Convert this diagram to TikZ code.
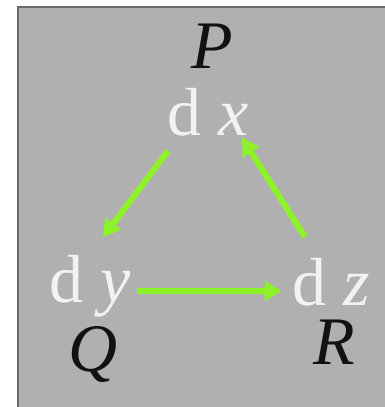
\documentclass[tikz,border=0pt]{standalone}
\usepackage{fontspec}
\setmainfont{Liberation Serif}
\definecolor{panelgray}{RGB}{176,176,176}
\definecolor{rimgray}{RGB}{105,105,105}
\definecolor{arrgreen}{RGB}{142,242,40}
\definecolor{difwhite}{RGB}{242,242,242}
\usetikzlibrary{arrows.meta}

\begin{document}
\begin{tikzpicture}[
        difnode/.style={anchor=base, inner sep=2pt, text=difwhite,
                        font=\fontsize{68}{80}\selectfont},
        ptlabel/.style={anchor=base, inner sep=0pt, text=black!93,
                        font=\fontsize{68}{80}\selectfont\itshape},
        flow/.style={draw=arrgreen, line width=6pt,
                     -{Triangle[length=17pt, width=19pt]}}
      ]
        \useasboundingbox (0,0) rectangle (385pt,-407pt);
        \fill[panelgray] (18pt,-7pt) rectangle (385pt,-407pt);
        \draw[rimgray, line width=2.5pt] (385pt,-7pt) -- (18pt,-7pt) -- (18pt,-407pt);

        \node[ptlabel] (P) at (212pt,-68pt) {P};
        \node[ptlabel] (Q) at (93pt,-371pt) {Q};
        \node[ptlabel] (R) at (334pt,-364pt) {R};

        \node[difnode] (dx) at (208pt,-135pt) {d \textit{x}};
        \node[difnode] (dy) at (90pt,-302pt) {d \textit{y}};
        \node[difnode] (dz) at (331pt,-305pt) {d \textit{z}};

        \draw[flow] ([shift={(-40pt,-13pt)}]dx.south) -- ([shift={(13pt,15.5pt)}]dy.north);
        \draw[flow] ([shift={(-26pt,18.5pt)}]dz.north) -- ([shift={(34pt,0pt)}]dx.south);
        \draw[flow] ([shift={(4.5pt,11pt)}]dy.base east) -- ([shift={(-8.5pt,14pt)}]dz.base west);
      \end{tikzpicture}
\end{document}
